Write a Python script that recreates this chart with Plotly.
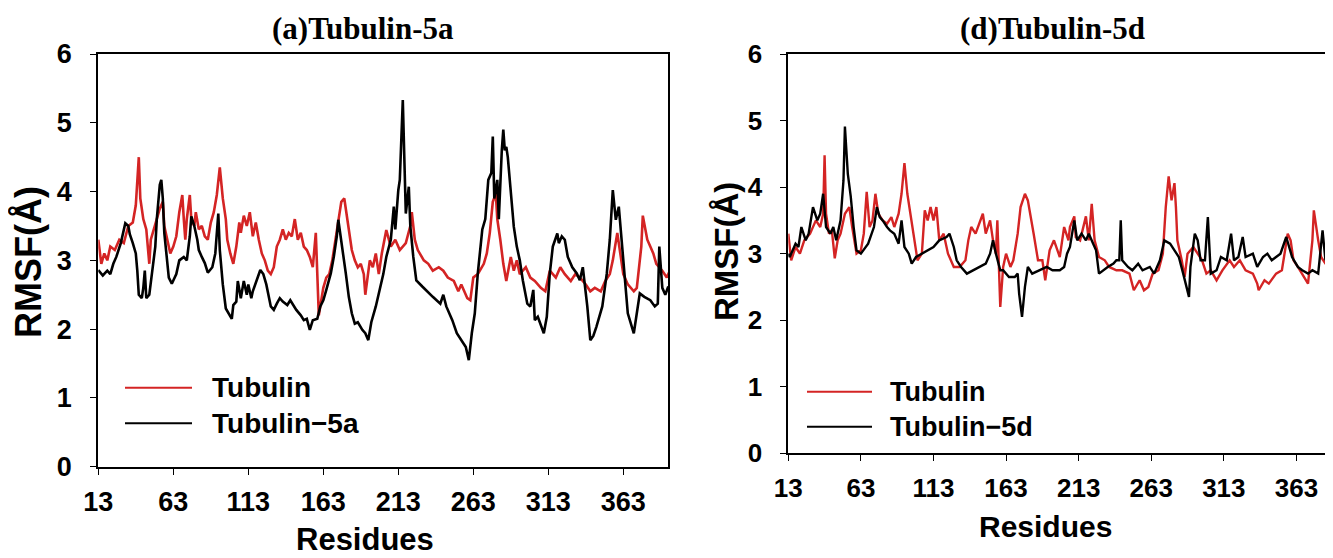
import plotly.graph_objects as go

# residue / RMSF readings, panel (a)
res_a_tub = [13, 15, 17, 19, 21, 24, 27, 30, 33, 36,
             38, 40, 41, 43, 45, 47, 48, 50, 52, 54,
             56, 57, 59, 61, 63, 65, 67, 69, 70, 71,
             72, 74, 75, 77, 78, 80, 82, 84, 86, 88,
             90, 92, 94, 96, 98, 99, 101, 103, 105, 107,
             108, 110, 112, 114, 116, 118, 120, 122, 124, 126,
             128, 130, 132, 134, 136, 138, 140, 142, 144, 146,
             148, 150, 152, 154, 156, 158, 160, 163, 165, 167,
             169, 171, 173, 175, 177, 178, 180, 182, 184, 186,
             188, 190, 191, 193, 194, 196, 198, 200, 202, 205,
             208, 211, 214, 218, 221, 222, 224, 226, 230, 233,
             236, 240, 243, 246, 250, 253, 255, 259, 261, 263,
             266, 270, 272, 274, 276, 278, 279, 281, 283, 285,
             288, 290, 292, 294, 298, 301, 304, 308, 311, 314,
             318, 321, 324, 328, 331, 334, 338, 341, 344, 348,
             351, 354, 356, 359, 361, 363, 366, 370, 372, 375,
             376, 379, 381, 383, 385, 389, 392, 394]
rmsf_a_tub = [3.3, 2.95, 3.1, 3.0, 3.2, 3.15, 3.3, 3.25, 3.5, 3.55,
              3.8, 4.5, 3.9, 3.6, 3.45, 2.95, 3.3, 3.45, 3.6, 3.75,
              3.85, 3.5, 3.3, 3.1, 3.2, 3.35, 3.7, 3.95, 3.6, 3.3,
              3.6, 3.95, 3.6, 3.5, 3.7, 3.45, 3.5, 3.35, 3.3, 3.55,
              3.7, 3.95, 4.35, 3.9, 3.6, 3.3, 3.1, 2.95, 3.2, 3.55,
              3.4, 3.65, 3.5, 3.7, 3.35, 3.55, 3.3, 3.1, 3.0, 2.85,
              2.8, 2.9, 3.2, 3.3, 3.45, 3.3, 3.4, 3.35, 3.6, 3.3,
              3.4, 3.2, 3.15, 3.05, 2.9, 3.4, 2.2, 2.6, 2.75, 2.8,
              3.0, 3.3, 3.6, 3.85, 3.9, 3.75, 3.4, 3.15, 3.0, 2.9,
              2.95, 2.8, 2.5, 2.85, 3.0, 2.9, 3.1, 2.8, 3.1, 3.44,
              3.2, 3.3, 3.15, 3.25, 3.5, 3.7, 3.3, 3.15, 3.0, 2.95,
              2.85, 2.9, 2.85, 2.75, 2.7, 2.55, 2.65, 2.45, 2.42, 2.75,
              2.8, 2.95, 3.1, 3.4, 3.85, 3.97, 3.6, 3.3, 2.95, 2.7,
              3.05, 2.85, 3.0, 2.8, 2.9, 2.75, 2.7, 2.6, 2.55, 2.85,
              2.75, 2.9, 2.8, 2.7, 2.8, 2.75, 2.65, 2.55, 2.6, 2.55,
              2.7, 2.8, 3.0, 3.4, 3.1, 2.8, 2.65, 2.55, 2.6, 3.2,
              3.65, 3.3, 3.2, 3.1, 2.95, 2.85, 2.75, 2.85]

res_a_cpx = [13, 16, 19, 21, 23, 25, 28, 30, 31, 33,
             34, 36, 38, 39, 40, 42, 43, 44, 45, 47,
             49, 51, 52, 54, 55, 56, 57, 59, 60, 62,
             64, 65, 67, 70, 72, 74, 75, 77, 79, 80,
             82, 84, 86, 89, 91, 93, 94, 96, 98, 100,
             102, 103, 105, 106, 108, 110, 112, 113, 115, 116,
             119, 121, 123, 125, 128, 130, 132, 134, 136, 139,
             141, 143, 145, 148, 150, 152, 154, 156, 159, 161,
             163, 165, 168, 170, 172, 173, 175, 178, 180, 182,
             184, 186, 189, 191, 193, 195, 198, 201, 203, 205,
             208, 210, 211, 213, 214, 215, 216, 217, 218, 220,
             221, 223, 225, 229, 232, 236, 241, 243, 245, 249,
             252, 255, 258, 260, 262, 264, 266, 269, 271, 273,
             275, 276, 277, 279, 280, 282, 283, 284, 285, 286,
             288, 290, 292, 294, 296, 299, 301, 303, 304, 306,
             310, 312, 314, 316, 319, 320, 322, 324, 326, 329,
             332, 334, 336, 339, 341, 343, 345, 349, 352, 354,
             356, 358, 360, 362, 364, 366, 370, 372, 374, 377,
             381, 384, 386, 387, 389, 391, 393]
rmsf_a_cpx = [2.86, 2.78, 2.85, 2.8, 2.95, 3.05, 3.25, 3.45, 3.54, 3.5,
              3.38, 3.25, 3.1, 2.85, 2.5, 2.45, 2.6, 2.85, 2.45, 2.5,
              2.9, 3.2, 3.6, 4.1, 4.17, 3.9, 3.4, 3.0, 2.75, 2.66,
              2.75, 2.8, 3.0, 3.05, 3.0, 3.35, 3.64, 3.5, 3.3, 3.15,
              3.05, 2.96, 2.82, 2.9, 3.1, 3.68, 3.15, 2.65, 2.3, 2.22,
              2.15, 2.35, 2.4, 2.7, 2.45, 2.7, 2.5, 2.65, 2.45, 2.55,
              2.75, 2.86, 2.8, 2.65, 2.33, 2.28, 2.37, 2.45, 2.4, 2.35,
              2.42, 2.35, 2.28, 2.2, 2.13, 2.15, 1.99, 2.13, 2.15, 2.33,
              2.42, 2.57, 2.81, 3.05, 3.35, 3.59, 3.3, 2.81, 2.47, 2.23,
              2.08, 2.1, 1.99, 1.94, 1.84, 2.1, 2.33, 2.62, 2.8, 3.05,
              3.3, 3.78, 3.45, 4.02, 4.17, 4.75, 5.33, 4.5, 3.68, 4.07,
              3.5, 3.05, 2.71, 2.62, 2.55, 2.47, 2.37, 2.5, 2.33, 2.13,
              1.94, 1.84, 1.74, 1.55, 1.94, 2.23, 2.81, 3.45, 3.6, 4.17,
              4.27, 4.8, 3.9, 4.17, 3.6, 4.6, 4.9, 4.6, 4.65, 4.5,
              4.0, 3.49, 3.2, 3.0, 2.71, 2.37, 2.33, 2.57, 2.13, 2.18,
              1.94, 2.18, 2.81, 3.2, 3.39, 3.25, 3.35, 3.3, 3.05, 2.9,
              2.81, 2.71, 2.9, 2.33, 1.84, 1.9, 2.03, 2.33, 2.81, 3.3,
              4.02, 3.59, 3.78, 3.3, 2.71, 2.23, 1.94, 2.23, 2.52, 2.47,
              2.42, 2.33, 2.37, 3.2, 2.6, 2.5, 2.62]

# panel (d)
res_d_tub = [13, 15, 18, 21, 24, 28, 32, 35, 37, 38,
             39, 41, 43, 45, 47, 49, 52, 55, 57, 60,
             63, 65, 67, 69, 71, 73, 75, 78, 81, 84,
             86, 89, 91, 93, 95, 98, 100, 102, 105, 107,
             109, 111, 113, 115, 117, 120, 123, 127, 131, 135,
             137, 139, 142, 145, 147, 149, 152, 154, 156, 157,
             159, 161, 163, 166, 168, 171, 173, 176, 178, 182,
             185, 188, 190, 193, 196, 200, 203, 206, 207, 210,
             211, 214, 218, 220, 222, 224, 227, 231, 234, 239,
             243, 248, 251, 255, 258, 261, 264, 268, 271, 273,
             275, 277, 279, 280, 281, 284, 286, 288, 292, 295,
             298, 301, 304, 308, 312, 317, 320, 324, 328, 333,
             336, 337, 341, 344, 349, 353, 357, 359, 361, 364,
             367, 371, 374, 375, 378, 380, 383, 387, 388]
rmsf_d_tub = [3.3, 2.9, 3.1, 3.0, 3.2, 3.3, 3.5, 3.4, 3.6, 4.48,
              3.6, 3.3, 3.35, 2.93, 3.2, 3.3, 3.6, 3.7, 3.4, 3.0,
              3.05, 3.3, 3.93, 3.4, 3.5, 3.9, 3.6, 3.5, 3.45, 3.55,
              3.4, 3.6, 3.9, 4.36, 3.9, 3.5, 3.2, 2.9, 3.0, 3.65,
              3.5, 3.7, 3.5, 3.7, 3.2, 3.3, 3.0, 2.8, 2.8, 2.9,
              3.2, 3.4, 3.3, 3.5, 3.6, 3.3, 3.5, 3.2, 3.0, 3.5,
              2.2, 2.8, 3.0, 2.8, 2.9, 3.3, 3.7, 3.9, 3.8, 3.3,
              2.9, 2.9, 2.6, 3.05, 3.2, 2.95, 3.4, 3.2, 3.4, 3.56,
              3.25, 3.2, 3.56, 3.2, 3.75, 3.2, 2.95, 2.9, 2.8, 2.75,
              2.75, 2.7, 2.45, 2.6, 2.45, 2.5, 2.7, 2.75, 3.0, 3.7,
              4.16, 3.8, 4.06, 3.7, 3.2, 2.9, 2.65, 3.0, 3.1, 3.0,
              2.9, 2.7, 2.75, 2.6, 2.75, 2.9, 2.8, 2.9, 2.75, 2.7,
              2.55, 2.45, 2.6, 2.55, 2.7, 2.75, 3.3, 3.2, 2.9, 2.8,
              2.7, 2.55, 3.2, 3.65, 3.2, 2.95, 2.85, 2.8, 2.5]

res_d_cpx = [13, 14, 18, 20, 22, 25, 27, 30, 33, 35,
             37, 39, 42, 44, 46, 49, 51, 52, 54, 56,
             58, 60, 63, 66, 68, 72, 74, 76, 78, 81,
             83, 86, 89, 91, 93, 96, 98, 101, 105, 108,
             113, 117, 122, 124, 127, 129, 132, 136, 140, 145,
             149, 152, 154, 156, 159, 161, 165, 169, 171, 172,
             174, 176, 178, 181, 186, 191, 195, 200, 203, 205,
             207, 210, 212, 215, 218, 220, 223, 225, 227, 230,
             233, 237, 239, 241, 242, 243, 247, 250, 254, 257,
             262, 265, 269, 272, 276, 279, 282, 285, 287, 289,
             290, 293, 295, 297, 300, 302, 304, 308, 311, 315,
             318, 320, 323, 326, 328, 333, 336, 340, 343, 346,
             349, 352, 356, 358, 360, 364, 367, 371, 374, 378,
             380, 381, 383, 386, 388]
rmsf_d_cpx = [3.0, 2.95, 3.15, 3.1, 3.4, 3.2, 3.3, 3.7, 3.5, 3.6,
              3.9, 3.4, 3.3, 3.4, 3.2, 3.5, 4.1, 4.91, 4.2, 3.86,
              3.4, 3.05, 3.0, 3.1, 3.15, 3.4, 3.7, 3.55, 3.5, 3.4,
              3.35, 3.3, 3.15, 3.5, 3.1, 3.0, 2.85, 2.95, 3.0, 3.05,
              3.1, 3.2, 3.25, 3.3, 3.1, 2.9, 2.8, 2.7, 2.75, 2.8,
              2.85, 3.0, 3.2, 3.0, 2.75, 2.75, 2.65, 2.65, 2.7, 2.4,
              2.05, 2.5, 2.8, 2.7, 2.75, 2.8, 2.75, 2.75, 2.8, 3.0,
              3.1, 3.5, 3.2, 3.3, 3.2, 3.3, 3.15, 3.05, 2.7, 2.75,
              2.8, 2.85, 2.9, 2.9, 3.5, 2.9, 2.8, 2.75, 2.85, 2.75,
              2.8, 2.7, 2.9, 3.2, 3.15, 3.05, 2.95, 2.7, 2.5, 2.35,
              2.8, 3.3, 3.2, 2.9, 2.9, 3.55, 2.7, 2.75, 2.95, 2.9,
              3.3, 2.9, 2.95, 3.25, 2.95, 3.0, 2.8, 2.95, 3.0, 2.9,
              2.95, 3.0, 3.25, 3.1, 2.95, 2.8, 2.75, 2.7, 2.75, 2.7,
              3.2, 3.35, 2.9, 3.1, 3.25]

x_ticks = [13, 63, 113, 163, 213, 263, 313, 363]
panel_titles = ["(a)Tubulin-5a", "(d)Tubulin-5d"]
legend_names = [["Tubulin", "Tubulin\u22125a"], ["Tubulin", "Tubulin\u22125d"]]

# the page body has an 8px margin, so the figure starts at (8, 8) in the window
OFF = 8
W, H = 1333 - OFF, 558 - OFF
RED = "#d42424"
SANS = "Liberation Sans, Arial, sans-serif"
SERIF = "Liberation Serif, Times New Roman, serif"


def px(x):
    return (x - OFF) / W


def py(y):
    return 1 - (y - OFF) / H


fig = go.Figure()
fig.add_trace(go.Scatter(x=res_a_tub, y=rmsf_a_tub, mode="lines", name=legend_names[0][0],
                         line=dict(color=RED, width=2.6), xaxis="x", yaxis="y"))
fig.add_trace(go.Scatter(x=res_a_cpx, y=rmsf_a_cpx, mode="lines", name=legend_names[0][1],
                         line=dict(color="black", width=2.6), xaxis="x", yaxis="y"))
fig.add_trace(go.Scatter(x=res_d_tub, y=rmsf_d_tub, mode="lines", name=legend_names[1][0],
                         line=dict(color=RED, width=2.4), xaxis="x2", yaxis="y2"))
fig.add_trace(go.Scatter(x=res_d_cpx, y=rmsf_d_cpx, mode="lines", name=legend_names[1][1],
                         line=dict(color="black", width=2.4), xaxis="x2", yaxis="y2"))


def xax(domain, rng, anchor, fsize):
    return dict(domain=domain, range=rng, anchor=anchor, tickvals=x_ticks,
                ticks="outside", ticklen=6, tickwidth=1, tickcolor="black",
                showline=True, linewidth=2, linecolor="black", mirror=True,
                showgrid=False, zeroline=False, ticklabelstandoff=4, automargin=False,
                tickfont=dict(family=SANS, size=fsize, color="black", weight="bold"))


def yax(domain, anchor, fsize, mirror):
    return dict(domain=domain, range=[0, 6], anchor=anchor, dtick=1,
                ticks="outside", ticklen=6, tickwidth=1, tickcolor="black",
                showline=True, linewidth=2, linecolor="black", mirror=mirror,
                showgrid=False, zeroline=False, ticklabelstandoff=13, automargin=False,
                tickfont=dict(family=SANS, size=fsize, color="black", weight="bold"))


fig.update_layout(
    width=W, height=H,
    margin=dict(l=0, r=0, t=0, b=0, pad=0, autoexpand=False),
    paper_bgcolor="white", plot_bgcolor="white",
    showlegend=False,
    xaxis=xax([px(98.3), px(668.3)], [13, 393], "y", 27),
    yaxis=yax([py(466.7), py(54)], "x", 27, True),
    xaxis2=xax([px(788.3), 1.0], [13, 388.2], "y2", 26),
    yaxis2=yax([py(453.3), py(54)], "x2", 26, False),
)

ann = []
# titles
ann.append(dict(x=px(363), y=py(28), text="<b>" + panel_titles[0] + "</b>",
                font=dict(family=SERIF, size=31, color="black")))
ann.append(dict(x=px(1052), y=py(28), text="<b>" + panel_titles[1] + "</b>",
                font=dict(family=SERIF, size=31, color="black")))
# axis titles
ann.append(dict(x=px(365), y=py(539), text="<b>Residues</b>",
                font=dict(family=SANS, size=31, color="black")))
ann.append(dict(x=px(1045), y=py(526), text="<b>Residues</b>",
                font=dict(family=SANS, size=30, color="black")))
ann.append(dict(x=px(28), y=py(262), text="<b>RMSF(\u00c5)</b>", textangle=-90,
                font=dict(family=SANS, size=36, color="black")))
ann.append(dict(x=px(727), y=py(252), text="<b>RMSF(\u00c5)</b>", textangle=-90,
                font=dict(family=SANS, size=33, color="black")))

# legend keys
shapes = []
leg = [(125, 192, 210, 387.7, 423.3, 28), (807, 872, 888, 391.7, 426.7, 27)]
for i, (x0, x1, xt, y_r, y_k, fs) in enumerate(leg):
    shapes.append(dict(type="line", xref="paper", yref="paper", x0=px(x0), x1=px(x1),
                       y0=py(y_r), y1=py(y_r), line=dict(color=RED, width=2)))
    shapes.append(dict(type="line", xref="paper", yref="paper", x0=px(x0), x1=px(x1),
                       y0=py(y_k), y1=py(y_k), line=dict(color="black", width=2)))
    ann.append(dict(x=px(xt), y=py(y_r), xanchor="left", text="<b>" + legend_names[i][0] + "</b>",
                    font=dict(family=SANS, size=fs, color="black")))
    ann.append(dict(x=px(xt), y=py(y_k), xanchor="left", text="<b>" + legend_names[i][1] + "</b>",
                    font=dict(family=SANS, size=fs, color="black")))

for a in ann:
    a.update(xref="paper", yref="paper", showarrow=False)
    a.setdefault("xanchor", "center")
    a.setdefault("yanchor", "middle")

fig.update_layout(annotations=ann, shapes=shapes)
fig.write_html("out.html")
